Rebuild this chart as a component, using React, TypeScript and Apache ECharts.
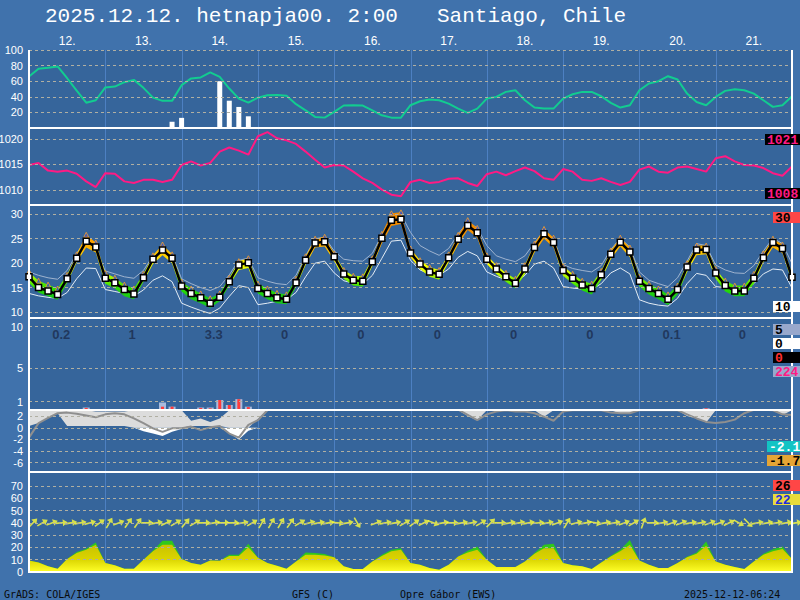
import React, { useEffect, useRef } from "react";
import * as echarts from "echarts";

const STEP_H = 3;
const TITLE_LEFT = "2025.12.12. hetnapja00. 2:00";
const TITLE_RIGHT = "Santiago, Chile";
const DAY_LABELS = ["12.", "13.", "14.", "15.", "16.", "17.", "18.", "19.", "20.", "21."];
const DAY_BOUNDARIES_H = [24, 48, 72, 96, 120, 144, 168, 192, 216];
const FOOTER = ["GrADS: COLA/IGES", "GFS (C)", "Opre G\u00e1bor (EWS)", "2025-12-12-06:24"];

const TICKS_HUM = [100, 80, 60, 40, 20];
const TICKS_PRES = [1020, 1015, 1010];
const TICKS_TEMP = [30, 25, 20, 15, 10];
const TICKS_PRECIP = [10, 5, 1];
const TICKS_SNOW = [2, 0, -2, -4, -6];
const TICKS_WIND = [70, 60, 50, 40, 30, 20, 10, 0];

const HUMIDITY = [
  66, 75.9, 77.2, 78.9, 63.8, 47.9, 32.4, 35.6,
  52, 53.1, 58.7, 61.7, 51.5, 39, 34.8, 34.8,
  54.9, 63.6, 64.8, 71.2, 65.6, 50.6, 37.7, 32.6,
  38.9, 42, 42.4, 41.2, 30.5, 22.7, 14.2, 13.3,
  20.6, 28.8, 29.2, 28.8, 22.7, 16.3, 13.3, 13.3,
  29.2, 34.3, 36.4, 35.6, 31.3, 24.9, 19.3, 24.9,
  37.7, 39.9, 46.3, 48.4, 35.6, 26.2, 24.9, 24.9,
  37.7, 43.3, 46.3, 46.3, 40.7, 32.2, 26.2, 29.2,
  48.4, 57, 60, 66.4, 62.1, 44.1, 33.4, 29.2,
  39.9, 47.6, 49.8, 48.4, 44.1, 35.6, 27.1, 29.2,
  40.7,
];
const HUM_BAR_INDEX = [15, 16, 20, 21, 22, 23];
const HUM_BAR_VALUE = [8, 13, 60, 35, 27, 15];

const PRESSURE = [
  1014.9, 1015.3, 1013.8, 1013.6, 1013.8, 1013.2, 1011.7, 1010.6,
  1013.3, 1013.2, 1011.7, 1011.4, 1012.0, 1012.0, 1011.6, 1012.0,
  1014.9, 1015.6, 1014.8, 1015.3, 1017.5, 1018.3, 1017.7, 1016.9,
  1020.5, 1021.3, 1020.1, 1019.7, 1019.0, 1017.5, 1015.9, 1014.4,
  1014.9, 1014.8, 1013.6, 1012.3, 1011.4, 1010.1, 1009.1, 1008.8,
  1011.6, 1012.0, 1011.4, 1011.6, 1012.2, 1012.3, 1011.4, 1010.8,
  1013.1, 1013.6, 1012.9, 1013.7, 1014.4, 1013.7, 1012.3, 1012.0,
  1014.1, 1013.6, 1012.0, 1011.8, 1012.3, 1011.6, 1011.0, 1011.6,
  1014.0, 1014.6, 1013.6, 1013.4, 1014.4, 1014.6, 1014.1, 1013.6,
  1016.2, 1016.6, 1015.6, 1014.9, 1014.8, 1014.3, 1013.3, 1012.8,
  1014.6,
];

const TEMP = [
  17.2, 15.0, 14.3, 13.6, 16.8, 21.0, 24.5, 23.3,
  16.9, 16.0, 14.6, 13.7, 17.0, 20.8, 22.7, 21.0,
  15.3, 13.8, 12.9, 11.8, 13.0, 16.2, 19.6, 20.1,
  14.8, 13.8, 12.9, 12.6, 16.0, 20.6, 24.1, 24.4,
  21.3, 17.8, 16.5, 16.3, 20.3, 25.1, 28.8, 29.0,
  22.1, 19.8, 18.2, 17.7, 21.1, 24.9, 27.7, 26.2,
  20.8, 18.8, 17.2, 15.9, 18.8, 23.2, 26.0, 24.2,
  18.5, 16.9, 15.5, 14.8, 17.6, 21.8, 24.3, 22.3,
  16.3, 14.8, 13.8, 12.6, 14.6, 19.2, 22.7, 22.8,
  18.0, 15.4, 14.3, 14.3, 16.9, 21.1, 24.2, 23.0,
  17.1,
];
const TEMP_BAND_HI = [
  18.2, 16.4, 15.6, 14.8, 17.6, 21.8, 25.8, 24.2,
  18.0, 17.0, 15.6, 14.8, 17.8, 21.6, 23.8, 21.8,
  16.2, 14.8, 13.8, 12.8, 13.8, 17.0, 20.4, 21.0,
  15.8, 14.8, 13.9, 13.6, 16.8, 21.4, 25.0, 25.4,
  22.0, 18.6, 17.4, 17.3, 21.0, 26.0, 30.2, 30.4,
  23.0, 20.6, 19.2, 18.6, 21.8, 25.8, 28.8, 27.2,
  21.6, 19.6, 18.0, 16.8, 19.6, 24.0, 27.0, 25.2,
  19.4, 17.8, 16.4, 15.8, 18.4, 22.6, 25.2, 23.2,
  17.2, 15.8, 14.8, 13.6, 15.4, 20.0, 23.6, 23.6,
  18.8, 16.4, 15.4, 15.4, 17.8, 22.0, 25.0, 23.8,
  17.8,
];
const TEMP_BAND_LO = [
  16.0, 14.0, 13.2, 12.5, 16.0, 20.2, 23.2, 22.2,
  15.8, 14.8, 13.2, 12.6, 16.2, 19.8, 21.6, 20.0,
  14.2, 12.6, 11.8, 10.8, 12.2, 15.4, 18.6, 19.0,
  13.8, 12.6, 11.8, 11.6, 15.2, 19.6, 23.2, 23.4,
  20.4, 16.8, 15.4, 15.2, 19.4, 24.0, 27.6, 28.0,
  21.2, 18.8, 17.2, 16.6, 20.2, 23.8, 26.8, 25.2,
  19.8, 17.8, 16.2, 14.8, 17.8, 22.2, 25.0, 23.2,
  17.4, 15.8, 14.4, 13.6, 16.6, 20.8, 23.4, 21.2,
  15.2, 13.6, 12.6, 11.4, 13.6, 18.2, 21.6, 21.8,
  16.8, 14.2, 13.2, 13.2, 15.8, 20.2, 23.2, 22.0,
  16.2,
];
const TEMP_GREY_HI = [
  18.2, 17.5, 17.0, 16.7, 18.5, 22.0, 24.9, 22.8,
  18.4, 17.8, 17.2, 16.9, 18.5, 21.5, 23.4, 21.8,
  16.8, 15.8, 15.0, 14.4, 15.2, 17.6, 20.6, 21.0,
  17.0, 16.3, 15.8, 15.6, 17.5, 21.5, 25.0, 25.3,
  22.5, 20.8, 20.5, 20.4, 22.0, 25.8, 29.6, 30.0,
  26.3, 23.6, 22.5, 21.6, 23.0, 26.0, 28.4, 27.2,
  23.6, 21.5, 20.8, 20.3, 21.5, 24.2, 26.6, 25.0,
  19.7, 18.9, 18.5, 18.2, 19.5, 22.8, 25.1, 23.3,
  18.2, 16.5, 15.8, 15.2, 17.0, 20.4, 24.0, 23.6,
  19.6, 18.6, 18.0, 17.9, 19.5, 22.5, 25.1, 24.0,
  19.9,
];
const TEMP_GREY_LO = [
  13.8, 13.3, 13.0, 12.8, 14.0, 16.8, 19.0, 18.9,
  14.6, 14.2, 13.8, 13.3, 14.5, 16.5, 17.4, 16.2,
  11.8, 11.0, 10.3, 9.7, 10.8, 13.2, 15.4, 15.0,
  11.5, 11.8, 12.2, 12.5, 14.0, 17.2, 20.0, 20.4,
  18.0, 16.4, 15.9, 15.7, 17.5, 21.0, 24.5, 24.7,
  20.6, 18.6, 17.8, 17.5, 18.8, 21.2, 22.4, 21.5,
  18.2, 17.3, 16.6, 16.2, 17.5, 19.8, 20.4, 19.0,
  15.2, 14.9, 14.7, 14.6, 15.8, 18.0, 19.0, 17.8,
  12.5, 11.8, 11.4, 11.2, 12.8, 15.8, 17.9, 17.5,
  15.2, 15.0, 14.9, 14.9, 15.8, 17.8, 18.8, 18.6,
  14.9,
];

const PRECIP_INDEX = [6, 14, 15, 18, 19, 20, 21, 22, 23, 71];
const PRECIP_TOTAL = [0.3, 0.9, 0.4, 0.3, 0.3, 1.2, 0.6, 1.3, 0.4, 0.2];
const PRECIP_CONV = [0.25, 0.4, 0.4, 0.25, 0.2, 1.2, 0.6, 1.3, 0.35, 0.2];
const PRECIP_DAILY = ["0.2", "1", "3.3", "0", "0", "0", "0", "0", "0.1", "0"];

const N = null;
const SNOW_UPPER = [
  3.0, 3.0, 3.0, 3.0, 3.0, 3.0, 3.0, 2.8,
  2.8, 2.8, 2.8, 3.0, 3.0, 3.0, 3.0, 3.0,
  3.0, 1.2, 1.6, 1.0, 1.6, 3.0, 3.0, 3.0,
  3.0, 3.0, N, N, N, N, N, N,
  N, N, N, N, N, N, N, N,
  N, N, N, N, N, 3.0, 3.0, 3.0,
  3.0, N, N, N, N, 3.0, 3.0, 3.0,
  N, N, N, N, N, 3.0, 3.0, 3.0,
  3.0, N, N, N, 3.0, 3.0, 3.0, 3.0,
  3.0, N, N, N, N, N, 3.0, 3.0,
  3.0,
];
const SNOW_LOWER = [
  0.3, 0.8, 1.7, 2.5, 0.3, 0.3, 0.3, 0.3,
  0.3, 0.3, 0.3, 0.0, -0.6, -1.0, -1.4, -0.7,
  -0.2, 0.3, 0.3, 0.3, 0.3, -0.9, -2.0, -0.5,
  1.5, 3.0, N, N, N, N, N, N,
  N, N, N, N, N, N, N, N,
  N, N, N, N, N, 3.0, 2.0, 1.3,
  3.0, N, N, N, N, 3.0, 1.9, 3.0,
  N, N, N, N, N, 3.0, 2.4, 2.5,
  3.0, N, N, N, 3.0, 2.0, 1.6, 0.9,
  3.0, N, N, N, N, N, 3.0, 2.2,
  3.0,
];
const SNOW_LINE = [
  -1.7, 0.8, 1.7, 2.5, 2.6, 2.4, 2.1, 1.8,
  2.3, 2.5, 2.3, 1.6, 0.8, -0.1, -0.7, -0.1,
  -0.1, 0.2, -0.4, 0.1, 0.3, -1.0, -1.7, 0.5,
  1.3, 3.0, N, N, N, N, N, N,
  N, N, N, N, N, N, N, N,
  N, N, N, N, N, 3.1, 2.2, 1.3,
  2.3, 2.8, 3.0, 2.8, 2.8, 2.5, 1.9, 1.2,
  2.8, 3.0, 3.0, 3.0, 3.0, 2.6, 2.5, 2.5,
  3.0, 3.0, 3.0, 3.0, 3.0, 2.3, 1.6, 1.0,
  0.8, 1.0, 1.4, 2.5, 3.1, 3.1, 3.0, 2.3,
  2.2,
];

const WIND_SPEED = [
  9.4, 7.8, 4.6, 2.7, 10.6, 15.4, 18.1, 22.2,
  7.3, 5.5, 2.7, 2.7, 10, 16.8, 22.2, 22.2,
  10.6, 7.3, 6, 9.4, 9.1, 13.1, 13.1, 20.2,
  11.5, 7.3, 5.1, 2.7, 8.6, 14, 14, 13.5,
  12.1, 4.6, 2.4, 2.4, 8.6, 13.1, 16.8, 18.1,
  7.3, 6, 3.3, 1.9, 6, 12.7, 15.9, 18.1,
  10, 4.1, 4.1, 4.1, 8.6, 14.8, 19.4, 19.4,
  7.3, 5.5, 4.6, 2.4, 7.8, 12.7, 16.8, 22.2,
  9.4, 6, 3.3, 3.3, 7.3, 12.1, 14.8, 21.3,
  8.6, 6, 4.1, 2.4, 8.6, 14, 16.8, 18.7,
  10.6,
];
const WIND_GUST = [
  9.4, 7.8, 4.6, 2.7, 10.6, 16.2, 18.9, 24.0,
  7.3, 5.5, 2.7, 2.7, 10, 17.5, 25.4, 25.4,
  10.6, 7.3, 6, 9.4, 9.1, 14.0, 14.0, 22.9,
  11.5, 7.3, 5.1, 2.7, 8.6, 15.9, 15.4, 14.6,
  12.1, 4.6, 2.4, 2.4, 8.6, 14.0, 18.1, 19.4,
  7.3, 6, 3.3, 1.9, 6, 12.7, 17.2, 20.8,
  10, 4.1, 4.1, 4.1, 8.6, 15.5, 22.2, 22.9,
  7.3, 5.5, 4.6, 2.4, 7.8, 13.2, 18.1, 26.0,
  9.4, 6, 3.3, 3.3, 7.3, 12.5, 15.9, 24.8,
  8.6, 6, 4.1, 2.4, 8.6, 14.8, 18.6, 20.8,
  10.6,
];
const WIND_DIR = [
  45, 30, 20, 5, 10, 10, 15, 35,
  60, 20, 55, 55, 0, 10, 25, 30,
  50, 30, 0, 10, 0, 0, 10, 30,
  60, 60, 60, 55, 30, 15, 10, 10,
  -5, 10, -60, N, 20, 10, 10, 30,
  35, 25, -20, 10, 0, 10, 10, 30,
  45, 0, 10, 10, 10, 5, 10, 20,
  60, 15, 10, -10, 10, 10, 20, 30,
  70, 0, 10, 20, 20, 10, 10, 20,
  20, 25, -30, -45, 10, 10, 10, 10,
  10,
];

const SIDE_TEXT = ["1021", "1008", "30", "10", "5", "0", "0", "224", "-2.1", "-1.7", "26", "22"];

// ---------- layout (pixels / styles) ----------
const PLOT_LEFT = 29;
const PLOT_RIGHT = 8;
const PANELS = [
  { top: 50, height: 78, min: 0, max: 100 },
  { top: 128, height: 77, min: 1007.1, max: 1022.1 },
  { top: 205, height: 113, min: 8.77, max: 31.9 },
  { top: 318, height: 92, min: 0, max: 11.04 },
  { top: 410, height: 62, min: -7.6, max: 3.05 },
  { top: 472, height: 100, min: 0, max: 81.4 },
];
const PRECIP_LABEL_LEVEL = 9.1;
const ARROW_LEVEL = 40;
const SIDE_BOX = [
  { x: 765, y: 134, w: 35, bg: "#000000", fg: "#FF1A84" },
  { x: 765, y: 188, w: 35, bg: "#000000", fg: "#FF1A84" },
  { x: 773, y: 212, w: 27, bg: "#FF4646", fg: "#000000" },
  { x: 773, y: 301, w: 27, bg: "#FFFFFF", fg: "#000000" },
  { x: 773, y: 324, w: 27, bg: "#98A8CC", fg: "#000000" },
  { x: 773, y: 338, w: 27, bg: "#FFFFFF", fg: "#000000" },
  { x: 773, y: 352, w: 27, bg: "#000000", fg: "#FF3030" },
  { x: 773, y: 366, w: 27, bg: "#98A8CC", fg: "#FF1A84" },
  { x: 767, y: 441, w: 33, bg: "#12C4C4", fg: "#FFFFFF" },
  { x: 767, y: 455, w: 33, bg: "#E6A535", fg: "#000000" },
  { x: 773, y: 480, w: 27, bg: "#FF4646", fg: "#000000" },
  { x: 773, y: 494, w: 27, bg: "#E8DC3A", fg: "#1E2EE0" },
];
const FOOTER_X = [4, 292, 400, 684];

const pts = (arr: (number | null)[]) => arr.map((v, i) => [i * STEP_H, v]);

const gridLines = (ticks: number[]) => ({
  silent: true,
  symbol: ["none", "none"],
  animation: false,
  lineStyle: { color: "#B0AFA2", type: [3, 3], width: 1 },
  label: {
    show: true,
    position: "start",
    formatter: (p: any) => String(p.value),
    color: "#FFFFFF",
    fontSize: 11,
    fontFamily: "Liberation Sans",
    distance: 6,
  },
  emphasis: { disabled: true },
  data: ticks.map((v) => ({ yAxis: v })),
});

function segments(upper: (number | null)[], lower: (number | null)[]) {
  const out: number[][] = [];
  let seg: number[] = [];
  for (let i = 0; i < upper.length; i++) {
    if (upper[i] == null || lower[i] == null) {
      if (seg.length > 1) out.push(seg);
      seg = [];
    } else seg.push(i);
  }
  if (seg.length > 1) out.push(seg);
  return out;
}

function bandPolygons(api: any, upper: (number | null)[], lower: (number | null)[], fill: any) {
  return segments(upper, lower).map((seg) => {
    const top = seg.map((i) => api.coord([i * STEP_H, upper[i]]));
    const bot = seg.slice().reverse().map((i) => api.coord([i * STEP_H, lower[i]]));
    return { type: "polygon", shape: { points: top.concat(bot) }, style: { fill } };
  });
}

function buildOption() {
  const grids: any[] = PANELS.map((p) => ({
    left: PLOT_LEFT, right: PLOT_RIGHT, top: p.top, height: p.height, show: false,
  }));
  grids.push({
    left: PLOT_LEFT, right: PLOT_RIGHT, top: 50, height: 522, show: true,
    backgroundColor: "#36659B", borderWidth: 0,
  });
  const xAxes: any[] = PANELS.map((_, k) => ({ gridIndex: k, type: "value", min: 0, max: 240, show: false }));
  xAxes.push({ gridIndex: 6, type: "value", min: 0, max: 240, show: false });
  xAxes.push({
    gridIndex: 6, type: "category", position: "top", data: DAY_LABELS, boundaryGap: true,
    axisLine: { show: false }, axisTick: { show: false }, splitLine: { show: false },
    axisLabel: { color: "#FFFFFF", fontSize: 12, margin: 3, fontFamily: "Liberation Sans" },
  });
  const yAxes: any[] = PANELS.map((p, k) => ({ gridIndex: k, type: "value", min: p.min, max: p.max, show: false }));
  yAxes.push({ gridIndex: 6, type: "value", min: 0, max: 1, show: false });

  const series: any[] = [];
  // day lines
  series.push({
    type: "custom", xAxisIndex: 6, yAxisIndex: 6, z: 1, silent: true,
    data: DAY_BOUNDARIES_H.map((h) => [h, 0]),
    renderItem: (params: any, api: any) => {
      const x = Math.round(api.coord([api.value(0), 0])[0]) + 0.5;
      const cs = params.coordSys;
      return { type: "line", shape: { x1: x, y1: cs.y, x2: x, y2: cs.y + cs.height }, style: { stroke: "#4D80C2", lineWidth: 1 } };
    },
  });
  // humidity
  series.push({
    type: "bar", xAxisIndex: 0, yAxisIndex: 0, z: 2, barWidth: 5,
    data: HUM_BAR_INDEX.map((i, k) => [i * STEP_H, HUM_BAR_VALUE[k]]),
    itemStyle: { color: "#FFFFFF" }, markLine: gridLines(TICKS_HUM),
  });
  series.push({
    type: "line", xAxisIndex: 0, yAxisIndex: 0, z: 3, data: pts(HUMIDITY), showSymbol: false,
    lineStyle: { color: "#12CC90", width: 2 },
  });
  // pressure
  series.push({
    type: "line", xAxisIndex: 1, yAxisIndex: 1, z: 3, data: pts(PRESSURE), showSymbol: false,
    lineStyle: { color: "#FF1A84", width: 2 }, markLine: gridLines(TICKS_PRES),
  });
  // temperature
  series.push({
    type: "line", xAxisIndex: 2, yAxisIndex: 2, z: 2, data: pts(TEMP_GREY_HI), showSymbol: false,
    lineStyle: { color: "#9FB3CE", width: 1 }, markLine: gridLines(TICKS_TEMP),
  });
  series.push({
    type: "line", xAxisIndex: 2, yAxisIndex: 2, z: 2, data: pts(TEMP_GREY_LO), showSymbol: false,
    lineStyle: { color: "#E4ECF4", width: 1 },
  });
  series.push({
    type: "custom", xAxisIndex: 2, yAxisIndex: 2, z: 3, silent: true, clip: true, data: [[0, 20]],
    renderItem: (params: any, api: any) => {
      const yA = api.coord([0, 27])[1];
      const yB = api.coord([0, 13])[1];
      const fill = new echarts.graphic.LinearGradient(0, yA, 0, yB, [
        { offset: 0, color: "#F08A00" },
        { offset: 0.214, color: "#FFA800" },
        { offset: 0.393, color: "#FFD000" },
        { offset: 0.5, color: "#FFFF00" },
        { offset: 0.643, color: "#D8FF00" },
        { offset: 0.75, color: "#7CF000" },
        { offset: 0.857, color: "#2EE000" },
        { offset: 1, color: "#18C818" },
      ], true);
      return { type: "group", children: bandPolygons(api, TEMP_BAND_HI, TEMP_BAND_LO, fill) };
    },
  });
  series.push({
    type: "scatter", xAxisIndex: 2, yAxisIndex: 2, z: 4, silent: true, data: pts(TEMP_BAND_HI),
    symbol: "triangle", symbolSize: 5, itemStyle: { color: "#2E4FD0", borderColor: "#FFA020", borderWidth: 1 },
  });
  series.push({
    type: "line", xAxisIndex: 2, yAxisIndex: 2, z: 5, data: pts(TEMP), showSymbol: true,
    symbol: "rect", symbolSize: 6, lineStyle: { color: "#000000", width: 2.5 },
    itemStyle: { color: "#FFFFFF", borderColor: "#000000", borderWidth: 1.5 },
  });
  // precipitation
  series.push({
    type: "custom", xAxisIndex: 3, yAxisIndex: 3, z: 3, silent: true,
    data: PRECIP_INDEX.map((i, k) => [i * STEP_H, PRECIP_TOTAL[k], PRECIP_CONV[k]]),
    renderItem: (params: any, api: any) => {
      const x = api.value(0);
      const base = api.coord([x, 0]);
      const top = api.coord([x, api.value(1)]);
      const topC = api.coord([x, api.value(2)]);
      return {
        type: "group",
        children: [
          { type: "rect", shape: { x: base[0] - 3.5, y: top[1], width: 7, height: base[1] - top[1] }, style: { fill: "#A9BBDD" } },
          { type: "rect", shape: { x: base[0] - 1.5, y: topC[1], width: 3, height: base[1] - topC[1] }, style: { fill: "#FF3B3B" } },
        ],
      };
    },
  });
  series.push({
    type: "scatter", xAxisIndex: 3, yAxisIndex: 3, z: 3, silent: true,
    data: DAY_LABELS.map((_, d) => [d * 24 + 12, PRECIP_LABEL_LEVEL]),
    symbolSize: 1, itemStyle: { color: "rgba(0,0,0,0)" },
    label: {
      show: true, position: "inside", align: "left", offset: [-15, 0],
      formatter: (p: any) => PRECIP_DAILY[p.dataIndex],
      color: "#1B2C4E", fontSize: 13, fontWeight: "bold", fontFamily: "Liberation Sans",
    },
    markLine: gridLines(TICKS_PRECIP),
  });
  // snow / freezing panel
  series.push({
    type: "custom", xAxisIndex: 4, yAxisIndex: 4, z: 2, silent: true, clip: true, data: [[0, 0]],
    renderItem: (params: any, api: any) => {
      const lowPos = SNOW_LOWER.map((v) => (v == null ? null : Math.max(v, 0)));
      const zero = SNOW_LOWER.map((v) => (v == null ? null : 0));
      const lowNeg = SNOW_LOWER.map((v) => (v == null ? null : Math.min(v, 0)));
      return {
        type: "group",
        children: [
          ...bandPolygons(api, SNOW_UPPER, lowPos, "#DCDCDC"),
          ...bandPolygons(api, zero, lowNeg, "#FFFFFF"),
        ],
      };
    },
  });
  series.push({
    type: "line", xAxisIndex: 4, yAxisIndex: 4, z: 3, data: pts(SNOW_LINE), showSymbol: false,
    connectNulls: false, lineStyle: { color: "#8F8F8F", width: 2 }, markLine: gridLines(TICKS_SNOW),
  });
  // wind
  series.push({
    type: "line", xAxisIndex: 5, yAxisIndex: 5, z: 2, data: pts(WIND_GUST), showSymbol: false,
    lineStyle: { width: 0 }, areaStyle: { color: "#2FC81A", opacity: 1 }, markLine: gridLines(TICKS_WIND),
  });
  series.push({
    type: "line", xAxisIndex: 5, yAxisIndex: 5, z: 3, data: pts(WIND_SPEED), showSymbol: false,
    lineStyle: { width: 0 },
    areaStyle: {
      opacity: 1,
      color: new echarts.graphic.LinearGradient(0, 540, 0, 572, [
        { offset: 0, color: "#C4BC00" },
        { offset: 0.6, color: "#DAD400" },
        { offset: 1, color: "#FFFF28" },
      ], true),
    },
  });
  series.push({
    type: "scatter", xAxisIndex: 5, yAxisIndex: 5, z: 4, silent: true,
    symbol: "path://M0,2.3 L6,2.3 L6,0 L10,3 L6,6 L6,3.7 L0,3.7 Z",
    symbolSize: [12, 7], symbolOffset: [4, 0],
    itemStyle: { color: "#FFFF3A" },
    data: WIND_DIR.map((d, i) => (d == null ? null : { value: [i * STEP_H, ARROW_LEVEL], symbolRotate: d })).filter((x) => x),
  });

  const graphics: any[] = [];
  const hLines = [128, 205, 318, 410, 472, 572];
  hLines.forEach((y) => graphics.push({
    type: "line", z: 100, silent: true,
    shape: { x1: PLOT_LEFT, y1: y, x2: 793, y2: y }, style: { stroke: "#FFFFFF", lineWidth: 2 },
  }));
  [PLOT_LEFT, 792].forEach((x) => graphics.push({
    type: "line", z: 100, silent: true,
    shape: { x1: x, y1: 50, x2: x, y2: 573 }, style: { stroke: "#FFFFFF", lineWidth: 2 },
  }));
  graphics.push({
    type: "text", z: 100, x: 45, y: 16,
    style: { text: TITLE_LEFT, fill: "#FFFFFF", font: "21px 'Liberation Mono'", verticalAlign: "middle" },
  });
  graphics.push({
    type: "text", z: 100, x: 437, y: 16,
    style: { text: TITLE_RIGHT, fill: "#FFFFFF", font: "21px 'Liberation Mono'", verticalAlign: "middle" },
  });
  FOOTER.forEach((t, k) => graphics.push({
    type: "text", z: 100, x: FOOTER_X[k], y: 594,
    style: { text: t, fill: "#0A0A0A", font: "10px 'DejaVu Sans Mono'", verticalAlign: "middle" },
  }));
  SIDE_TEXT.forEach((t, k) => {
    const b = SIDE_BOX[k];
    graphics.push({ type: "rect", z: 101, shape: { x: b.x, y: b.y, width: b.w, height: 11 }, style: { fill: b.bg } });
    graphics.push({
      type: "text", z: 102, x: b.x + 2, y: b.y + 6,
      style: { text: t, fill: b.fg, font: "bold 13px 'Liberation Mono'", verticalAlign: "middle" },
    });
  });

  return {
    animation: false,
    backgroundColor: "#4072AC",
    grid: grids,
    xAxis: xAxes,
    yAxis: yAxes,
    series,
    graphic: graphics,
  };
}

export default function App() {
  const ref = useRef<HTMLDivElement>(null);
  useEffect(() => {
    const chart = echarts.init(ref.current!, null, { renderer: "svg" });
    chart.setOption(buildOption() as any);
    return () => chart.dispose();
  }, []);
  return <div ref={ref} style={{ position: "fixed", left: 0, top: 0, width: 800, height: 600 }} />;
}
